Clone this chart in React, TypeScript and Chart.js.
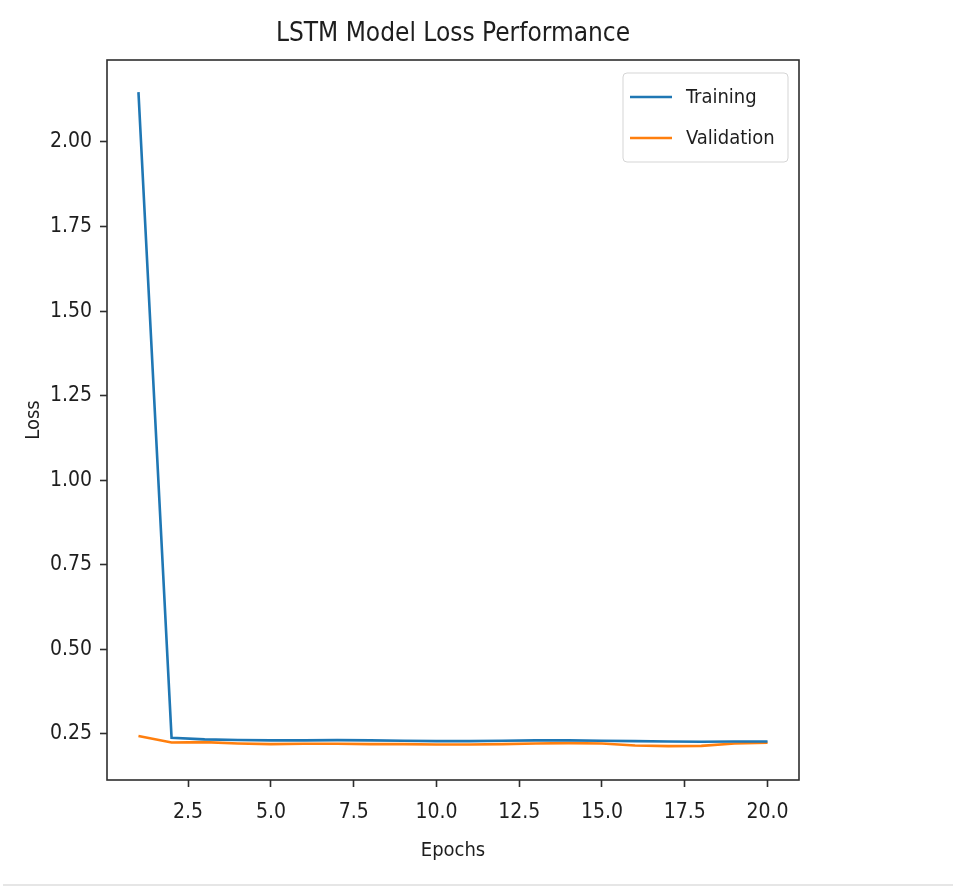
import React, { useEffect, useRef } from "react";
import { Chart, registerables } from "chart.js";

Chart.register(...registerables);

const epochs = [1, 2, 3, 4, 5, 6, 7, 8, 9, 10, 11, 12, 13, 14, 15, 16, 17, 18, 19, 20];
const trainingLoss = [2.147, 0.239, 0.234, 0.232, 0.231, 0.231, 0.232, 0.231, 0.230, 0.229, 0.229, 0.230, 0.231, 0.231, 0.230, 0.229, 0.228, 0.227, 0.228, 0.228];
const validationLoss = [0.244, 0.225, 0.226, 0.222, 0.220, 0.221, 0.221, 0.220, 0.220, 0.219, 0.219, 0.220, 0.222, 0.223, 0.222, 0.216, 0.214, 0.215, 0.222, 0.224];
const xTicks = [2.5, 5.0, 7.5, 10.0, 12.5, 15.0, 17.5, 20.0];
const yTicks = [0.25, 0.5, 0.75, 1.0, 1.25, 1.5, 1.75, 2.0];
const seriesNames = ["Training", "Validation"];
const seriesColors = ["#1f77b4", "#ff7f0e"];
const titleText = "LSTM Model Loss Performance";

const FAMILY = "'DejaVu Sans Condensed', 'DejaVu Sans', sans-serif";
const TEXT = "#1e1e1e";

const overlay = {
  id: "overlay",
  afterDatasetsDraw(chart: any) {
    const { ctx, chartArea } = chart;
    const { left, right, top, bottom } = chartArea;
    ctx.save();
    // frame
    ctx.strokeStyle = "#2e2e2e";
    ctx.lineWidth = 1.6;
    ctx.strokeRect(left, top, right - left, bottom - top);
    // legend
    const bx = right - 176, by = top + 13, bw = 165, bh = 89;
    ctx.fillStyle = "rgba(255,255,255,0.8)";
    ctx.strokeStyle = "#d5d5d5";
    ctx.lineWidth = 1;
    ctx.beginPath();
    ctx.roundRect(bx, by, bw, bh, 4);
    ctx.fill();
    ctx.stroke();
    ctx.font = `20px ${FAMILY}`;
    ctx.textBaseline = "middle";
    seriesNames.forEach((name, i) => {
      const ly = by + 24 + i * 41;
      ctx.strokeStyle = seriesColors[i];
      ctx.lineWidth = 2.6;
      ctx.beginPath();
      ctx.moveTo(bx + 7, ly);
      ctx.lineTo(bx + 49, ly);
      ctx.stroke();
      ctx.fillStyle = TEXT;
      ctx.textAlign = "left";
      ctx.fillText(name, bx + 63, ly + 1);
    });
    // title
    ctx.font = `26px ${FAMILY}`;
    ctx.textAlign = "center";
    ctx.textBaseline = "middle";
    ctx.fillStyle = TEXT;
    ctx.fillText(titleText, (left + right) / 2, 34);
    // faint bottom separator
    ctx.strokeStyle = "#e6e6e6";
    ctx.lineWidth = 2;
    ctx.beginPath();
    ctx.moveTo(3, 885);
    ctx.lineTo(chart.width, 885);
    ctx.stroke();
    ctx.restore();
  },
};

export default function App() {
  const ref = useRef<HTMLCanvasElement | null>(null);
  useEffect(() => {
    if (!ref.current) return;
    const chart = new Chart(ref.current, {
      type: "line",
      data: {
        datasets: [
          {
            label: seriesNames[0],
            data: epochs.map((e, i) => ({ x: e, y: trainingLoss[i] })),
            borderColor: seriesColors[0],
            borderWidth: 2.6,
            pointRadius: 0,
            tension: 0,
          },
          {
            label: seriesNames[1],
            data: epochs.map((e, i) => ({ x: e, y: validationLoss[i] })),
            borderColor: seriesColors[1],
            borderWidth: 2.6,
            pointRadius: 0,
            tension: 0,
          },
        ],
      },
      options: {
        animation: false,
        responsive: false,
        maintainAspectRatio: false,
        layout: { padding: { left: 0, right: 154, top: 60, bottom: 0 } },
        plugins: { legend: { display: false }, title: { display: false }, tooltip: { enabled: false } },
        scales: {
          x: {
            type: "linear",
            min: 0.05,
            max: 20.95,
            afterFit: (s: any) => { s.height = 115; },
            afterBuildTicks: (s: any) => { s.ticks = xTicks.map((v) => ({ value: v })); },
            ticks: {
              color: TEXT,
              font: { family: FAMILY, size: 21 },
              padding: 13,
              maxRotation: 0,
              autoSkip: false,
              callback: (v: any) => Number(v).toFixed(1),
            },
            grid: { drawOnChartArea: false, drawTicks: true, tickLength: 7, tickColor: "#2e2e2e", tickWidth: 1.6 },
            border: { display: false },
            title: { display: true, text: "Epochs", color: TEXT, font: { family: FAMILY, size: 20 }, padding: { top: 0, bottom: 32 } },
          },
          y: {
            type: "linear",
            min: 0.114,
            max: 2.242,
            afterFit: (s: any) => { s.width = 107; },
            afterBuildTicks: (s: any) => { s.ticks = yTicks.map((v) => ({ value: v })); },
            ticks: {
              color: TEXT,
              font: { family: FAMILY, size: 21 },
              padding: 8,
              autoSkip: false,
              callback: (v: any) => Number(v).toFixed(2),
            },
            grid: { drawOnChartArea: false, drawTicks: true, tickLength: 7, tickColor: "#2e2e2e", tickWidth: 1.6 },
            border: { display: false },
            title: { display: true, text: "Loss", color: TEXT, font: { family: FAMILY, size: 20 }, padding: { top: 22, bottom: 0 } },
          },
        },
      },
      plugins: [overlay],
    });
    return () => chart.destroy();
  }, []);
  return (
    <div style={{ position: "fixed", left: 0, top: 0, width: 953, height: 895, background: "#fff" }}>
      <canvas ref={ref} width={953} height={895} style={{ width: 953, height: 895, display: "block" }} />
    </div>
  );
}
